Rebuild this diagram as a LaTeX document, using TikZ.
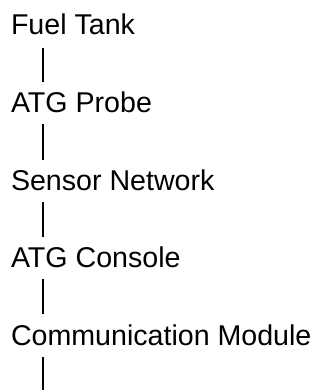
\documentclass[tikz,border=0pt]{standalone}
\usepackage{fontspec}
\setmainfont{Liberation Sans}
\usetikzlibrary{calc}
\begin{document}
\begin{tikzpicture}[x=1pt,y=1pt,
  lbl/.style={anchor=base west,inner sep=0pt,outer sep=0pt,
    font=\fontsize{28.6}{34}\selectfont,text=black},
  bar/.style={line width=1.6pt,black}]
\useasboundingbox (0,0) rectangle (322,-390);
\node[lbl] (ft) at (11,-35) {Fuel Tank};
\node[lbl] (probe) at (11,-112.3) {ATG Probe};
\node[lbl] (sensor) at (11,-190.5) {Sensor Network};
\node[lbl] (console) at (11,-267.3) {ATG Console};
\node[lbl] (comm) at (11,-345) {Communication Module};
\coordinate (endpt) at (42.7,-390);
\draw[bar] ($(ft.base west)+(31.7,-13)$) -- ($(probe.base west)+(31.7,30.3)$);
\draw[bar] ($(probe.base west)+(31.7,-12)$) -- ($(sensor.base west)+(31.7,31)$);
\draw[bar] ($(sensor.base west)+(31.7,-11.5)$) -- ($(console.base west)+(31.7,30)$);
\draw[bar] ($(console.base west)+(31.7,-12)$) -- ($(comm.base west)+(31.7,31)$);
\draw[bar] ($(comm.base west)+(31.7,-11.7)$) -- (endpt);
\end{tikzpicture}
\end{document}
